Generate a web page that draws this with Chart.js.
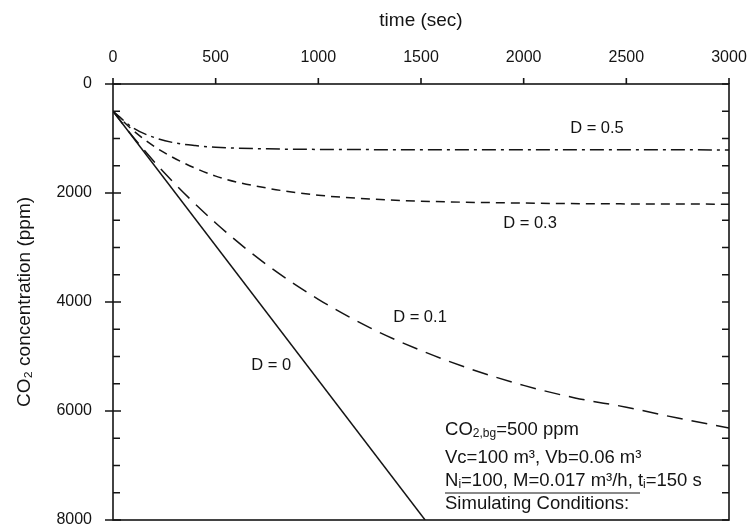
<!DOCTYPE html>
<html>
<head>
<meta charset="utf-8">
<script src="https://cdn.jsdelivr.net/npm/chart.js@4"></script>
<style>
  html, body { margin: 0; padding: 0; background: #fff; }
  #wrap { width: 749px; height: 524px; }
</style>
</head>
<body>
<div id="wrap"><canvas id="co2Chart" width="749" height="524"></canvas></div>
<script>
// values (time in s, CO2 in ppm)
var timeD0 = [0, 1520];
var co2D0 = [500, 8000];

var timeD01 = [0, 100, 250, 500, 750, 1000, 1250, 1500, 1750, 2000, 2250, 2500, 2750, 3000];
var co2D01 = [500, 980, 1630, 2550, 3320, 3950, 4470, 4890, 5240, 5530, 5760, 5930, 6130, 6310];

var timeD03 = [0, 100, 250, 500, 750, 1000, 1250, 1500, 2000, 2500, 3000];
var co2D03 = [500, 860, 1260, 1690, 1910, 2040, 2110, 2150, 2185, 2200, 2205];

var timeD05 = [0, 100, 200, 300, 400, 500, 750, 1000, 1500, 2000, 2500, 3000];
var co2D05 = [500, 810, 980, 1080, 1130, 1160, 1190, 1200, 1205, 1205, 1205, 1210];

var xTicks = [0, 500, 1000, 1500, 2000, 2500, 3000];
var yTicks = [0, 2000, 4000, 6000, 8000];

var curveLabels = ['D = 0.5', 'D = 0.3', 'D = 0.1', 'D = 0'];

function pts(xs, ys) {
    return xs.map(function (x, i) { return { x: x, y: ys[i] }; });
}

var INK = '#141414';
var FONT = '"Liberation Sans", Arial, sans-serif';

function lineSet(label, xs, ys, dash) {
    return {
        label: label,
        data: pts(xs, ys),
        borderColor: INK,
        borderWidth: 1.5,
        borderDash: dash,
        pointRadius: 0,
        cubicInterpolationMode: 'monotone',
        fill: false
    };
}

// draws a line of text made of runs, some as subscript
function drawRuns(ctx, x, y, runs) {
    runs.forEach(function (r) {
        var small = r[1] === 'sub';
        ctx.font = (small ? '12px ' : '18.5px ') + FONT;
        ctx.fillText(r[0], x, small ? y + 4 : y);
        x += ctx.measureText(r[0]).width;
    });
}

function noPad(s) {
    s.paddingLeft = 0;
    s.paddingRight = 0;
    s.paddingTop = 0;
    s.paddingBottom = 0;
}

var frameAndNotes = {
    id: 'frameAndNotes',
    afterDraw: function (chart) {
        var ctx = chart.ctx;
        var a = chart.chartArea;
        var xs = chart.scales.x, ys = chart.scales.y;
        ctx.save();
        ctx.strokeStyle = INK;
        ctx.fillStyle = INK;
        ctx.lineWidth = 1.6;
        ctx.strokeRect(a.left, a.top, a.right - a.left, a.bottom - a.top);

        ctx.beginPath();
        xTicks.forEach(function (v) {
            var px = xs.getPixelForValue(v);
            ctx.moveTo(px, a.top);
            ctx.lineTo(px, a.top - 6);
        });
        for (var v = 0; v <= 8000; v += 500) {
            var py = ys.getPixelForValue(v);
            if (v % 2000 === 0) {
                ctx.moveTo(a.left - 8, py);
                ctx.lineTo(a.left + 8, py);
            } else {
                ctx.moveTo(a.left, py);
                ctx.lineTo(a.left + 7, py);
            }
            ctx.moveTo(a.right, py);
            ctx.lineTo(a.right - 7, py);
        }
        ctx.stroke();

        // curve labels
        ctx.font = '16.5px ' + FONT;
        ctx.textAlign = 'center';
        ctx.textBaseline = 'middle';
        var spots = [[2357, 807], [2031, 2550], [1495, 4275], [770, 5156]];
        curveLabels.forEach(function (t, i) {
            ctx.fillText(t, xs.getPixelForValue(spots[i][0]), ys.getPixelForValue(spots[i][1]));
        });

        // simulating conditions block
        ctx.textAlign = 'left';
        var x0 = xs.getPixelForValue(1617);
        drawRuns(ctx, x0, ys.getPixelForValue(6349), [['CO', null], ['2,bg', 'sub'], ['=500 ppm', null]]);
        drawRuns(ctx, x0, ys.getPixelForValue(6862), [['Vc=100 m³, Vb=0.06 m³', null]]);
        drawRuns(ctx, x0, ys.getPixelForValue(7280), [['N', null], ['i', 'sub'], ['=100, M=0.017 m³/h, t', null], ['i', 'sub'], ['=150 s', null]]);
        ctx.lineWidth = 1.2;
        ctx.beginPath();
        var ry = ys.getPixelForValue(7505);
        ctx.moveTo(x0, ry);
        ctx.lineTo(x0 + 195, ry);
        ctx.stroke();
        drawRuns(ctx, x0, ys.getPixelForValue(7706), [['Simulating Conditions:', null]]);
        ctx.restore();
    }
};

var ctx = document.getElementById('co2Chart');
var co2Chart = new Chart(ctx, {
    type: 'line',
    data: {
        datasets: [
            lineSet('D = 0.5', timeD05, co2D05, [14, 5, 3, 5]),
            lineSet('D = 0.3', timeD03, co2D03, [9, 6]),
            lineSet('D = 0.1', timeD01, co2D01, [16, 9]),
            lineSet('D = 0', timeD0, co2D0, [])
        ]
    },
    options: {
        responsive: false,
        animation: false,
        layout: { padding: { left: 0, top: 0, right: 20, bottom: 4 } },
        scales: {
            x: {
                type: 'linear',
                position: 'top',
                min: 0,
                max: 3000,
                grid: { display: false, drawTicks: false },
                border: { display: false },
                ticks: {
                    stepSize: 500, padding: 17, color: INK, font: { size: 16, family: FONT },
                    callback: function (v) { return String(v); }
                },
                title: { display: true, text: 'time (sec)', color: INK, font: { size: 19, family: FONT }, padding: { top: 9, bottom: 0 } },
                afterFit: function (s) { s.height = 84; noPad(s); }
            },
            y: {
                type: 'linear',
                reverse: true,
                min: 0,
                max: 8000,
                grid: { display: false, drawTicks: false },
                border: { display: false },
                ticks: {
                    stepSize: 2000, padding: 21, color: INK, font: { size: 16, family: FONT },
                    callback: function (v) { return String(v); }
                },
                title: { display: true, text: 'CO₂ concentration (ppm)', color: INK, font: { size: 19, family: FONT }, padding: { top: 13, bottom: 0 } },
                afterFit: function (s) { s.width = 113; noPad(s); }
            }
        },
        plugins: {
            legend: { display: false },
            tooltip: { enabled: false }
        }
    },
    plugins: [frameAndNotes]
});
</script>
</body>
</html>
